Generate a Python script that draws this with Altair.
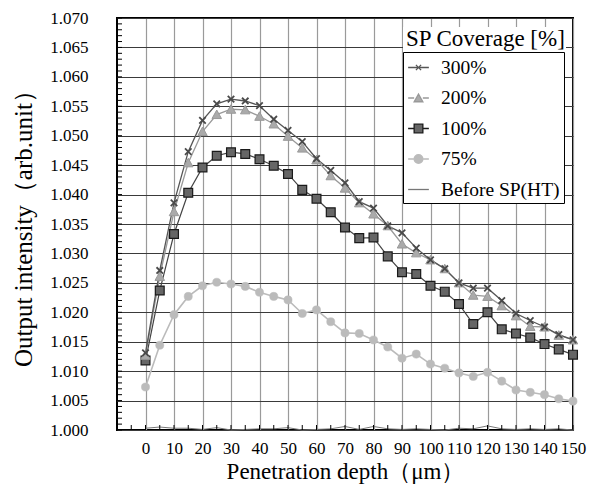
import altair as alt
import pandas as pd

# ---- data ----
depth = [0, 5, 10, 15, 20, 25, 30, 35, 40, 45, 50, 55, 60, 65, 70, 75, 80, 85, 90, 95,
         100, 105, 110, 115, 120, 125, 130, 135, 140, 145, 150]
sp300 = [1.0131, 1.0271, 1.0386, 1.0473, 1.0526, 1.0554, 1.0562, 1.0559, 1.0551, 1.0528,
         1.0509, 1.0490, 1.0461, 1.0441, 1.0420, 1.0388, 1.0377, 1.0347, 1.0335, 1.0309,
         1.0289, 1.0274, 1.0250, 1.0241, 1.0241, 1.0220, 1.0198, 1.0186, 1.0175, 1.0162, 1.0153]
sp200 = [1.0127, 1.0261, 1.0371, 1.0454, 1.0507, 1.0536, 1.0545, 1.0544, 1.0533, 1.0520,
         1.0499, 1.0479, 1.0459, 1.0432, 1.0411, 1.0386, 1.0367, 1.0347, 1.0316, 1.0301,
         1.0289, 1.0274, 1.0250, 1.0229, 1.0227, 1.0211, 1.0194, 1.0176, 1.0175, 1.0161, 1.0153]
sp100 = [1.0118, 1.0237, 1.0333, 1.0403, 1.0446, 1.0466, 1.0472, 1.0469, 1.0460, 1.0449,
         1.0435, 1.0408, 1.0393, 1.0370, 1.0344, 1.0326, 1.0327, 1.0295, 1.0268, 1.0265,
         1.0245, 1.0235, 1.0214, 1.0180, 1.0200, 1.0171, 1.0164, 1.0157, 1.0146, 1.0137, 1.0128]
sp75 = [1.0073, 1.0144, 1.0196, 1.0227, 1.0245, 1.0251, 1.0248, 1.0244, 1.0234, 1.0227,
        1.0221, 1.0198, 1.0204, 1.0184, 1.0165, 1.0164, 1.0153, 1.0141, 1.0122, 1.0129,
        1.0112, 1.0105, 1.0097, 1.0091, 1.0098, 1.0083, 1.0068, 1.0064, 1.0060, 1.0053, 1.0049]
before_ht = [1.0003, 1.0005, 1.0003, 1.0003, 1.0001, 1.0004, 1.0000, 1.0001, 1.0002, 1.0002,
             1.0004, 1.0000, 1.0001, 1.0002, 1.0006, 1.0001, 1.0006, 1.0002, 1.0001, 1.0002,
             1.0001, 1.0000, 1.0003, 1.0002, 1.0007, 1.0002, 1.0001, 1.0002, 1.0001, 1.0002, 1.0000]

series_names = ["300%", "200%", "100%", "75%", "Before SP(HT)"]
series_values = [sp300, sp200, sp100, sp75, before_ht]
legend_title = "SP Coverage [%]"

x_labels = [0, 10, 20, 30, 40, 50, 60, 70, 80, 90, 100, 110, 120, 130, 140, 150]
y_labels = [1.000, 1.005, 1.010, 1.015, 1.020, 1.025, 1.030, 1.035, 1.040, 1.045,
            1.050, 1.055, 1.060, 1.065, 1.070]
x_minor = list(range(-10, 151, 5))
y_minor = [round(1.0 + 0.001 * i, 3) for i in range(71)]

# ---- styles ----
FONT = "Liberation Serif"
W, H = 456, 412

styles = {
    "300%": dict(line="#555555", lw=1.3, shape="M-1,-1L1,1M-1,1L1,-1", size=42,
                 fill="none", stroke="#4a4a4a", sw=1.8),
    "200%": dict(line="#999999", lw=1.3, shape="M-1,0.85L0,-0.95L1,0.85Z", size=90,
                 fill="#aaaaaa", stroke="#999999", sw=1.0),
    "100%": dict(line="#444444", lw=1.2, shape="square", size=78,
                 fill="#666666", stroke="#1a1a1a", sw=1.2),
    "75%": dict(line="#bbbbbb", lw=1.6, shape="circle", size=66,
                fill="#bbbbbb", stroke="#bbbbbb", sw=0.5),
    "Before SP(HT)": dict(line="#777777", lw=1.0),
}

legend_paths = [
    "M-1,0H1M-0.25,-0.25L0.25,0.25M-0.25,0.25L0.25,-0.25",
    "M-1,0H-0.42M0.42,0H1M-0.42,0.36L0,-0.38L0.42,0.36Z",
    "M-1,0H-0.42M0.42,0H1M-0.42,-0.42H0.42V0.42H-0.42Z",
    "M-1,0H-0.42M0.42,0H1M-0.42,0A0.42,0.42,0,1,0,0.42,0A0.42,0.42,0,1,0,-0.42,0Z",
    "M-1,0H1",
]
legend_fills = ["#555555", "#aaaaaa", "#666666", "#bbbbbb", "#777777"]
legend_strokes = ["#555555", "#999999", "#1a1a1a", "#bbbbbb", "#777777"]

rows = []
for name, vals in zip(series_names, series_values):
    for d, v in zip(depth, vals):
        rows.append({"depth": d, "intensity": v, "series": name})
df = pd.DataFrame(rows)


def x_enc():
    return alt.X("depth:Q", scale=alt.Scale(domain=[-10, 150], nice=False, zero=False),
                 axis=alt.Axis(values=x_labels, format="d", ticks=False, domain=False,
                               labelFontSize=17, labelPadding=10, labelFlush=False,
                               grid=True, gridColor="#9a9a9a", gridWidth=1.2,
                               title="Penetration depth（μm）", titleFontSize=23,
                               titleX=W / 2, titleY=48, titleAlign="center",
                               titleBaseline="alphabetic"))


def y_enc():
    return alt.Y("intensity:Q", scale=alt.Scale(domain=[1.0, 1.07], nice=False, zero=False),
                 axis=alt.Axis(values=y_labels, format=".3f", ticks=False, domain=False,
                               labelFontSize=17, labelPadding=29, labelFlush=False,
                               grid=True, gridColor="#3a3a3a", gridWidth=1,
                               title="Output intensity（arb.unit）", titleFontSize=25,
                               titleAngle=270, titleX=-94, titleY=H / 2 - 2,
                               titleAlign="center", titleBaseline="middle"))


layers = []
draw_order = ["75%", "Before SP(HT)", "100%", "200%", "300%"]
for name in draw_order:
    st = styles[name]
    base = alt.Chart(df).transform_filter(alt.datum.series == name)
    layers.append(base.mark_line(color=st["line"], strokeWidth=st["lw"]).encode(x=x_enc(), y=y_enc()))
for name in draw_order:
    st = styles[name]
    if "shape" not in st:
        continue
    base = alt.Chart(df).transform_filter(alt.datum.series == name)
    layers.append(base.mark_point(shape=st["shape"], size=st["size"], fill=st["fill"],
                                  stroke=st["stroke"], strokeWidth=st["sw"], opacity=1,
                                  filled=False).encode(x=x_enc(), y=y_enc()))

# inward minor ticks
yt = pd.DataFrame({"intensity": y_minor})
layers.append(alt.Chart(yt).mark_rule(color="black", strokeWidth=1).encode(
    y=y_enc(), x=alt.value(0), x2=alt.value(5)))
xt = pd.DataFrame({"depth": x_minor})
layers.append(alt.Chart(xt).mark_rule(color="black", strokeWidth=1).encode(
    x=x_enc(), y=alt.value(H), y2=alt.value(H - 5)))

# legend title with its white background
tdf = pd.DataFrame({"t": [legend_title]})
layers.append(alt.Chart(tdf).mark_rect(fill="white").encode(
    x=alt.value(286), x2=alt.value(449), y=alt.value(9), y2=alt.value(34)))
layers.append(alt.Chart(tdf).mark_text(align="left", baseline="alphabetic", font=FONT,
                                       fontSize=23, color="black").encode(
    x=alt.value(289), y=alt.value(28), text="t:N"))

# legend layer (no marks drawn, explicit domains)
leg = alt.Legend(title=None, orient="none", legendX=286, legendY=34,
                 fillColor="white", strokeColor="black", padding=4, rowPadding=9.5,
                 symbolSize=430, symbolStrokeWidth=1.3, symbolOpacity=1,
                 labelFont=FONT, labelFontSize=19.5, labelOffset=11, labelColor="black",
                 labelLimit=300)
ldf = pd.DataFrame({"series": series_names})
layers.append(alt.Chart(ldf).transform_filter("false").mark_point(opacity=1, filled=False).encode(
    shape=alt.Shape("series:N", scale=alt.Scale(domain=series_names, range=legend_paths), legend=leg),
    fill=alt.Fill("series:N", scale=alt.Scale(domain=series_names, range=legend_fills), legend=leg),
    stroke=alt.Stroke("series:N", scale=alt.Scale(domain=series_names, range=legend_strokes), legend=leg),
))

chart = alt.layer(*layers).properties(
    width=W, height=H,
    autosize=alt.AutoSizeParams(type="none"),
    padding={"left": 117, "top": 18, "right": 19, "bottom": 57},
    background="white",
).configure_view(stroke="black", strokeWidth=2).configure_axis(
    labelFont=FONT, titleFont=FONT, labelColor="black", titleColor="black",
    titleFontWeight="normal")

chart.save("out.html", embed_options={"renderer": "svg", "actions": False})
